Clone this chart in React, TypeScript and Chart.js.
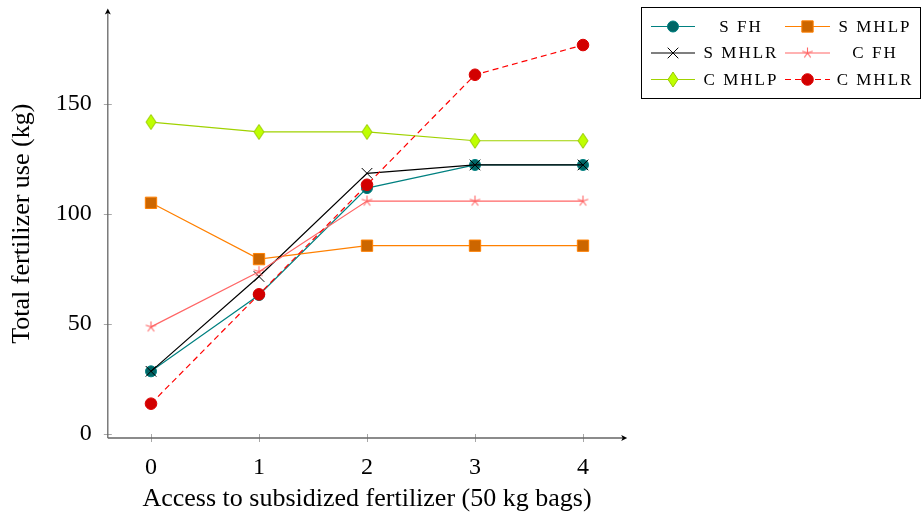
import React, { useEffect, useRef } from "react";
import { Chart, registerables } from "chart.js";
import { drawPoint } from "chart.js/helpers";

Chart.register(...registerables);

// ---- data ----
const xValues = [0, 1, 2, 3, 4];
const xTicks = [0, 1, 2, 3, 4];
const yTicks = [0, 50, 100, 150];
const seriesNames = ["S FH", "S MHLP", "S MHLR", "C FH", "C MHLP", "C MHLR"];
const sFH = [28.5, 63.2, 111.8, 122.3, 122.3];
const sMHLP = [105.1, 79.5, 85.6, 85.6, 85.6];
const sMHLR = [28.5, 71.6, 118.5, 122.3, 122.3];
const cFH = [48.7, 73.8, 105.9, 105.9, 105.9];
const cMHLP = [141.8, 137.3, 137.3, 133.3, 133.3];
const cMHLR = [13.8, 63.5, 113.3, 163.3, 176.8];
const xTitle = "Access to subsidized fertilizer (50 kg bags)";
const yTitle = "Total fertilizer use (kg)";

const FONT = "'Liberation Serif', serif";

function makeStar(color: string, r: number) {
  const c = document.createElement("canvas");
  const s = Math.ceil(2 * r + 2);
  c.width = s;
  c.height = s;
  const g = c.getContext("2d")!;
  g.strokeStyle = color;
  g.lineWidth = 1.1;
  g.beginPath();
  for (let k = 0; k < 5; k++) {
    const a = (-90 + 72 * k) * Math.PI / 180;
    g.moveTo(s / 2, s / 2);
    g.lineTo(s / 2 + r * Math.cos(a), s / 2 + r * Math.sin(a));
  }
  g.stroke();
  return c;
}

function makeDiamond(fill: string, stroke: string, w: number, h: number) {
  const c = document.createElement("canvas");
  const cw = Math.ceil(w + 2);
  const ch = Math.ceil(h + 2);
  c.width = cw;
  c.height = ch;
  const g = c.getContext("2d")!;
  g.fillStyle = fill;
  g.strokeStyle = stroke;
  g.lineWidth = 1;
  g.beginPath();
  g.moveTo(cw / 2, ch / 2 - h / 2);
  g.lineTo(cw / 2 + w / 2, ch / 2);
  g.lineTo(cw / 2, ch / 2 + h / 2);
  g.lineTo(cw / 2 - w / 2, ch / 2);
  g.closePath();
  g.fill();
  g.stroke();
  return c;
}

const axesPlugin = {
  id: "pgfAxes",
  beforeDatasetsDraw(chart: any) {
    const { ctx, chartArea, scales } = chart;
    const { left, right, top, bottom } = chartArea;
    ctx.save();
    // ticks
    ctx.strokeStyle = "#a8a8a8";
    ctx.lineWidth = 1;
    ctx.beginPath();
    yTicks.forEach((v) => {
      const py = Math.round(scales.y.getPixelForValue(v)) + 0.5;
      ctx.moveTo(left - 4, py);
      ctx.lineTo(left + 4, py);
    });
    xTicks.forEach((v) => {
      const px = Math.round(scales.x.getPixelForValue(v)) + 0.5;
      ctx.moveTo(px, bottom - 4);
      ctx.lineTo(px, bottom + 4);
    });
    ctx.stroke();
    // axis lines
    ctx.strokeStyle = "#666666";
    ctx.lineWidth = 1.3;
    ctx.beginPath();
    ctx.moveTo(left, bottom);
    ctx.lineTo(left, top + 2);
    ctx.moveTo(left, bottom);
    ctx.lineTo(right - 2, bottom);
    ctx.stroke();
    // arrow heads
    ctx.fillStyle = "#000";
    ctx.beginPath();
    ctx.moveTo(left, top - 1);
    ctx.lineTo(left - 3, top + 5);
    ctx.lineTo(left, top + 3.5);
    ctx.lineTo(left + 3, top + 5);
    ctx.closePath();
    ctx.fill();
    ctx.beginPath();
    ctx.moveTo(right + 1, bottom);
    ctx.lineTo(right - 5, bottom - 3);
    ctx.lineTo(right - 3.5, bottom);
    ctx.lineTo(right - 5, bottom + 3);
    ctx.closePath();
    ctx.fill();
    ctx.restore();
  },
};

const legendPlugin = {
  id: "pgfLegend",
  afterDraw(chart: any) {
    const { ctx } = chart;
    const bx = 641.5, by = 7.5, bw = 279, bh = 91;
    ctx.save();
    ctx.fillStyle = "#fff";
    ctx.fillRect(bx, by, bw, bh);
    ctx.strokeStyle = "#000";
    ctx.lineWidth = 1;
    ctx.strokeRect(bx, by, bw, bh);
    const rows = [26.5, 53, 79.5];
    const cols = [{ l0: 651, l1: 695, tc: 740 }, { l0: 785, l1: 830, tc: 874 }];
    chart.data.datasets.forEach((ds: any, i: number) => {
      const row = rows[Math.floor(i / 2)];
      const col = cols[i % 2];
      ctx.save();
      ctx.strokeStyle = ds.borderColor;
      ctx.lineWidth = ds.borderWidth;
      ctx.setLineDash(ds.borderDash || []);
      ctx.beginPath();
      ctx.moveTo(col.l0, row);
      ctx.lineTo(col.l1, row);
      ctx.stroke();
      ctx.setLineDash([]);
      ctx.fillStyle = ds.pointBackgroundColor;
      ctx.strokeStyle = ds.pointBorderColor;
      ctx.lineWidth = ds.pointBorderWidth;
      drawPoint(ctx, { pointStyle: ds.pointStyle, rotation: 0, radius: ds.pointRadius, borderWidth: ds.pointBorderWidth }, (col.l0 + col.l1) / 2, row);
      ctx.restore();
      ctx.save();
      ctx.fillStyle = "#000";
      ctx.font = `17px ${FONT}`;
      (ctx as any).letterSpacing = "2px";
      ctx.textAlign = "center";
      ctx.textBaseline = "middle";
      ctx.fillText(ds.label, col.tc + 1, row + 1);
      ctx.restore();
    });
    ctx.restore();
  },
};

export default function App() {
  const ref = useRef<HTMLCanvasElement | null>(null);
  useEffect(() => {
    const canvas = ref.current!;
    const teal = "rgb(0,128,128)";
    const orange = "rgb(255,128,0)";
    const lightRed = "rgb(255,102,102)";
    const red = "rgb(255,0,0)";
    const lime = "rgb(160,210,0)";
    const seriesValues = [sFH, sMHLP, sMHLR, cFH, cMHLP, cMHLR];
    const styles: any[] = [
      { borderColor: teal, pointStyle: "circle", pointRadius: 5.5, pointBackgroundColor: "rgb(0,102,102)", pointBorderColor: teal, pointBorderWidth: 1 },
      { borderColor: orange, pointStyle: "rect", pointRadius: 8, pointBackgroundColor: "rgb(204,102,0)", pointBorderColor: orange, pointBorderWidth: 1 },
      { borderColor: "#000", pointStyle: "crossRot", pointRadius: 7.5, pointBackgroundColor: "#000", pointBorderColor: "#000", pointBorderWidth: 1 },
      { borderColor: lightRed, pointStyle: makeStar(lightRed, 5.5), pointRadius: 5.5, pointBackgroundColor: lightRed, pointBorderColor: lightRed, pointBorderWidth: 1 },
      { borderColor: lime, pointStyle: makeDiamond("rgb(191,255,0)", "rgb(150,200,0)", 10, 15), pointRadius: 7, pointBackgroundColor: "rgb(191,255,0)", pointBorderColor: "rgb(150,200,0)", pointBorderWidth: 1 },
      { borderColor: red, borderDash: [6, 4], pointStyle: "circle", pointRadius: 5.8, pointBackgroundColor: "rgb(210,0,0)", pointBorderColor: "rgb(220,0,0)", pointBorderWidth: 1 },
    ];
    const datasets = seriesNames.map((name, i) => ({
      label: name,
      data: xValues.map((x, j) => ({ x, y: seriesValues[i][j] })),
      borderWidth: 1.2,
      tension: 0,
      fill: false,
      order: seriesNames.length - i,
      pointHoverRadius: styles[i].pointRadius,
      ...styles[i],
    }));
    const chart = new Chart(canvas, {
      type: "line",
      data: { datasets },
      plugins: [axesPlugin, legendPlugin],
      options: {
        animation: false,
        responsive: false,
        layout: { padding: { left: 0, top: 9.4, right: 295.8, bottom: 0 } },
        plugins: { legend: { display: false }, tooltip: { enabled: false } },
        scales: {
          x: {
            type: "linear",
            min: -0.4,
            max: 4.4,
            afterBuildTicks: (s: any) => { s.ticks = xTicks.map((v) => ({ value: v })); },
            afterFit: (s: any) => { s.height = 77; s.paddingLeft = 0; s.paddingRight = 0; },
            grid: { display: false },
            border: { display: false },
            ticks: { color: "#000", font: { family: FONT, size: 24 }, padding: 7 },
            title: { display: true, text: xTitle, color: "#000", font: { family: FONT, size: 26 }, padding: { top: 0, bottom: 0.5 } },
          },
          y: {
            type: "linear",
            min: -1.8,
            max: 193,
            afterBuildTicks: (s: any) => { s.ticks = yTicks.map((v) => ({ value: v })); },
            afterFit: (s: any) => { s.width = 107.8; s.paddingTop = 0; s.paddingBottom = 0; },
            grid: { display: false },
            border: { display: false },
            ticks: { color: "#000", font: { family: FONT, size: 24 }, padding: 8 },
            title: { display: true, text: yTitle, color: "#000", font: { family: FONT, size: 26 }, padding: { top: 6.4, bottom: 0 } },
          },
        },
      } as any,
    });
    return () => chart.destroy();
  }, []);
  return (
    <div style={{ position: "fixed", left: 0, top: 0, width: 922, height: 515, background: "#fff" }}>
      <canvas ref={ref} width={922} height={515} style={{ display: "block" }} />
    </div>
  );
}
